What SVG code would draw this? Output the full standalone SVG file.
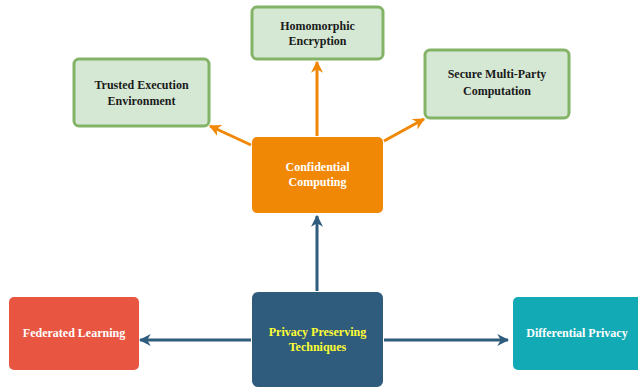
<svg xmlns="http://www.w3.org/2000/svg" width="638" height="390" viewBox="0 0 638 390">
<style>
text{font-weight:bold;font-size:12px;text-anchor:middle;dominant-baseline:central}
.g{fill:#d5e8d4;stroke:#82b366;stroke-width:3}
.dk{fill:#1a1a1a}
.w{fill:#ffffff}
.y{fill:#ffff33}
.ob{stroke:#f08705;stroke-width:3;fill:none}
.bb{stroke:#2f5b7c;stroke-width:3;fill:none}
</style>
<defs>
<marker id="ao" viewBox="0 0 10 10" refX="9" refY="5" markerWidth="4" markerHeight="4" orient="auto" markerUnits="strokeWidth">
<path d="M0,0 L10,5 L0,10 L3,5 Z" fill="#f08705"/>
</marker>
<marker id="ab" viewBox="0 0 10 10" refX="9" refY="5" markerWidth="4" markerHeight="4" orient="auto" markerUnits="strokeWidth">
<path d="M0,0 L10,5 L0,10 L3,5 Z" fill="#2f5b7c"/>
</marker>
</defs>
<g id="connectors">
<line class="ob" x1="317" y1="136" x2="317" y2="62" marker-end="url(#ao)"/>
<line class="ob" x1="251" y1="145" x2="210" y2="126" marker-end="url(#ao)"/>
<line class="ob" x1="384" y1="141" x2="424" y2="119" marker-end="url(#ao)"/>
<line class="bb" x1="317" y1="291" x2="317" y2="216" marker-end="url(#ab)"/>
<line class="bb" x1="251" y1="340" x2="140" y2="340" marker-end="url(#ab)"/>
<line class="bb" x1="384" y1="340" x2="508" y2="340" marker-end="url(#ab)"/>
</g>
<g font-family="Times New Roman, Liberation Serif, serif">
<g id="homomorphic">
<rect class="g" x="252" y="7" width="131" height="52" rx="5"/>
<text class="dk" x="317.5" y="26">Homomorphic</text>
<text class="dk" x="317.5" y="41">Encryption</text>
</g>
<g id="tee">
<rect class="g" x="74" y="59" width="135" height="67" rx="5"/>
<text class="dk" x="141.5" y="85">Trusted Execution</text>
<text class="dk" x="141.5" y="101">Environment</text>
</g>
<g id="smpc">
<rect class="g" x="425" y="50" width="144" height="68" rx="5"/>
<text class="dk" x="497" y="74">Secure Multi-Party</text>
<text class="dk" x="497" y="91">Computation</text>
</g>
<g id="confidential">
<rect x="252" y="137" width="131" height="76" rx="5" fill="#f08705"/>
<text class="w" x="317.5" y="167">Confidential</text>
<text class="w" x="317.5" y="182">Computing</text>
</g>
<g id="privacy">
<rect x="252" y="292" width="131" height="95" rx="6" fill="#2f5b7c"/>
<text class="y" x="317.5" y="332">Privacy Preserving</text>
<text class="y" x="317.5" y="347">Techniques</text>
</g>
<g id="federated">
<rect x="9" y="297" width="130" height="73" rx="5" fill="#e85642"/>
<text class="w" x="74" y="333">Federated Learning</text>
</g>
<g id="differential">
<rect x="513" y="297" width="130" height="73" rx="5" fill="#12aab5"/>
<text class="w" x="577" y="333">Differential Privacy</text>
</g>
</g>
</svg>
